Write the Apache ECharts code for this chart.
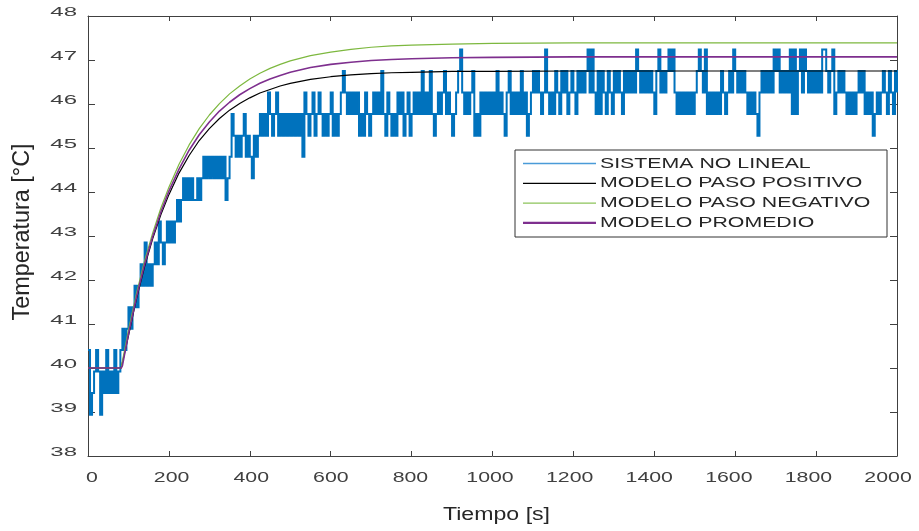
<!DOCTYPE html>
<html>
<head>
<meta charset="utf-8">
<script src="https://cdn.jsdelivr.net/npm/echarts@6/dist/echarts.min.js"></script>
<style>html,body{margin:0;padding:0;background:#fff}#c{width:919px;height:531px}</style>
</head>
<body>
<div id="c"></div>
<script>
// ---- data ----
const xTicks = [0, 200, 400, 600, 800, 1000, 1200, 1400, 1600, 1800, 2000];
const yTicks = [38, 39, 40, 41, 42, 43, 44, 45, 46, 47, 48];
const seriesNames = ['SISTEMA NO LINEAL', 'MODELO PASO POSITIVO', 'MODELO PASO NEGATIVO', 'MODELO PROMEDIO'];

// quantised temperature levels of the measured signal (°C)
const levels = [38.94, 39.43, 39.92, 40.41, 40.89, 41.38, 41.87, 42.36, 42.85, 43.33,
                43.82, 44.31, 44.80, 45.28, 45.77, 46.26, 46.75, 47.24];
// measured signal, one level code (base 36 index into levels) every 5 s, 100 s per chunk
const sampleStep = 5;
const blueChunks = [
  "30123202131213123434", // 0-95
  "54565676867678798789", // 100-195
  "8989a9abababaababcbc", // 200-295
  "bcbcbcbcabcedcdcdecd", // 300-395
  "cbdcdededfedefdedede", // 400-495
  "dededecfedefdefedede", // 500-595
  "fdedefgfefefefdedfed", // 600-695
  "efefegedfededfefdefd", // 700-795
  "efefegefegedefefgefe", // 800-895
  "defghfefefgdedfefefe", // 900-995
  "fegefedfgefefegefdef", // 1000-1095
  "gfgfefhfefegfegfgefg", // 1100-1195
  "fegfgfghfhfegegfegfe", // 1200-1295
  "gfgfegfgfgfhgfgfgfgf", // 1300-1395
  "eghfgfghghfefefefefe", // 1400-1495
  "fghgfhefefefegfefgfh", // 1500-1595
  "gfgfgfefefedfgfgfgfh", // 1600-1695
  "ghfgfgfheheghfhgfgfg", // 1700-1795
  "fgfhhgfghefgfgfefefe", // 1800-1895
  "fgfgefefdefefgfegfeg", // 1900-1995
  "f"                      // 2000
];

// model responses (°C) read at these times (s)
const modelTime = [0, 82, 84, 85, 100, 120, 140, 160, 180, 200, 225, 250, 275, 300, 325, 350, 375, 400,
                   425, 450, 475, 500, 550, 600, 650, 700, 750, 800, 900, 1000, 1200, 2000];
const modelPositivo = [40, 40, 40, 40, 40.73, 41.58, 42.31, 42.94, 43.48, 43.94, 44.43, 44.83, 45.17, 45.44,
                       45.67, 45.86, 46.01, 46.14, 46.25, 46.33, 46.41, 46.47, 46.56, 46.62, 46.66, 46.69,
                       46.71, 46.72, 46.74, 46.74, 46.75, 46.75];
const modelNegativo = [40, 40, 40.10, 40.15, 40.86, 41.70, 42.44, 43.07, 43.63, 44.11, 44.63, 45.07, 45.44, 45.75,
                       46.01, 46.23, 46.41, 46.57, 46.70, 46.81, 46.90, 46.98, 47.10, 47.18, 47.24, 47.29,
                       47.32, 47.34, 47.36, 47.38, 47.39, 47.39];
const modelPromedio = [40, 40, 40, 40.05, 40.77, 41.62, 42.36, 42.99, 43.54, 44.02, 44.52, 44.95, 45.30, 45.59,
                       45.84, 46.04, 46.21, 46.35, 46.47, 46.57, 46.65, 46.72, 46.83, 46.90, 46.95, 46.99,
                       47.01, 47.03, 47.05, 47.06, 47.07, 47.07];

// ---- build series data ----
const blueCodes = blueChunks.join('');
const blueData = blueCodes.split('').map((c, i) => [i * sampleStep, levels[parseInt(c, 36)]]);
const pair = arr => modelTime.map((t, i) => [t, arr[i]]);

const colors = ['#0072BD', '#000000', '#7DB83F', '#7E2F8E'];
const legendColors = ['#4A9BD8', '#000000', '#8CC35A', '#7E2F8E'];
const FONT = '"Liberation Sans", Arial, sans-serif';
const STRETCH = 1.42;

const chart = echarts.init(document.getElementById('c'), null, {renderer: 'canvas'});
const axisCol = '#404040';
const baseX = {
  type: 'value', min: 0, max: 2000, interval: 200,
  axisLine: {show: true, onZero: false, lineStyle: {color: axisCol, width: 1}},
  axisTick: {show: true, inside: true, length: 5, lineStyle: {color: axisCol}},
  axisLabel: {show: false}, splitLine: {show: false}
};
const baseY = {
  type: 'value', min: 38, max: 48, interval: 1,
  axisLine: {show: true, onZero: false, lineStyle: {color: axisCol, width: 1}},
  axisTick: {show: true, inside: true, length: 7, lineStyle: {color: axisCol}},
  axisLabel: {show: false}, splitLine: {show: false}
};
const option = {
  animation: false,
  backgroundColor: '#fff',
  grid: {left: 88, right: 22, top: 16, bottom: 75},
  xAxis: [Object.assign({position: 'bottom'}, baseX), Object.assign({position: 'top'}, baseX)],
  yAxis: [Object.assign({position: 'left'}, baseY), Object.assign({position: 'right'}, baseY)],
  series: [
    {name: seriesNames[0], type: 'line', data: blueData, step: 'end', showSymbol: false, symbol: 'none',
     lineStyle: {color: colors[0], width: 2, join: 'miter'}, z: 2},
    {name: seriesNames[1], type: 'line', data: pair(modelPositivo), showSymbol: false, symbol: 'none',
     lineStyle: {color: colors[1], width: 1.2}, z: 3},
    {name: seriesNames[2], type: 'line', data: pair(modelNegativo), showSymbol: false, symbol: 'none',
     lineStyle: {color: colors[2], width: 1.2}, z: 4},
    {name: seriesNames[3], type: 'line', data: pair(modelPromedio), showSymbol: false, symbol: 'none',
     lineStyle: {color: colors[3], width: 1.6}, z: 5}
  ]
};
chart.setOption(option);

// ---- texts (tick labels, axis titles, legend) placed through the axes' own scales ----
function txt(x, y, text, size, align, fill, extra) {
  return Object.assign({
    type: 'text', x: x, y: y, silent: true, z: 100,
    style: {text: text, fill: fill, font: size + 'px ' + FONT, align: align, verticalAlign: 'middle',
            textAlign: align, textVerticalAlign: 'middle'},
    scaleX: STRETCH
  }, extra || {});
}
const g = [];
const px0 = chart.convertToPixel({xAxisIndex: 0}, 0);
const pyBottom = chart.convertToPixel({yAxisIndex: 0}, 38);
const pyTop = chart.convertToPixel({yAxisIndex: 0}, 48);
xTicks.forEach(v => {
  const p = chart.convertToPixel({xAxisIndex: 0}, v);
  g.push(txt(px0 + 4 + (p - px0) * 0.984, pyBottom + 22, String(v), 15, 'center', '#404040'));
});
yTicks.forEach(v => {
  const p = chart.convertToPixel({yAxisIndex: 0}, v);
  g.push(txt(px0 - 11, p - 3, String(v), 12, 'right', '#404040', {scaleX: 2.0}));
});
g.push(txt((px0 + chart.convertToPixel({xAxisIndex: 0}, 2000)) / 2 + 4, pyBottom + 59, 'Tiempo [s]', 17, 'center', '#262626', {scaleX: 1.36, scaleY: 1.1}));
g.push(txt(23, (pyTop + pyBottom) / 2 - 4, 'Temperatura [°C]', 20, 'center', '#262626', {rotation: Math.PI / 2, scaleX: 1.17, scaleY: 1.15}));

// legend box
const lg = {x: 515, y: 150, w: 372, h: 87};
g.push({type: 'rect', shape: {x: lg.x, y: lg.y, width: lg.w, height: lg.h}, z: 90,
        style: {fill: '#ffffff', stroke: '#333333', lineWidth: 1}});
seriesNames.forEach((n, i) => {
  const yy = lg.y + 13.5 + i * 19.8;
  g.push({type: 'line', z: 95, shape: {x1: lg.x + 8, y1: yy, x2: lg.x + 81, y2: yy},
          style: {stroke: legendColors[i], lineWidth: i === 3 ? 2.2 : 1.3}});
  g.push(txt(lg.x + 85, yy, n, 15, 'left', '#262626'));
});
chart.setOption({graphic: g});
</script>
</body>
</html>
